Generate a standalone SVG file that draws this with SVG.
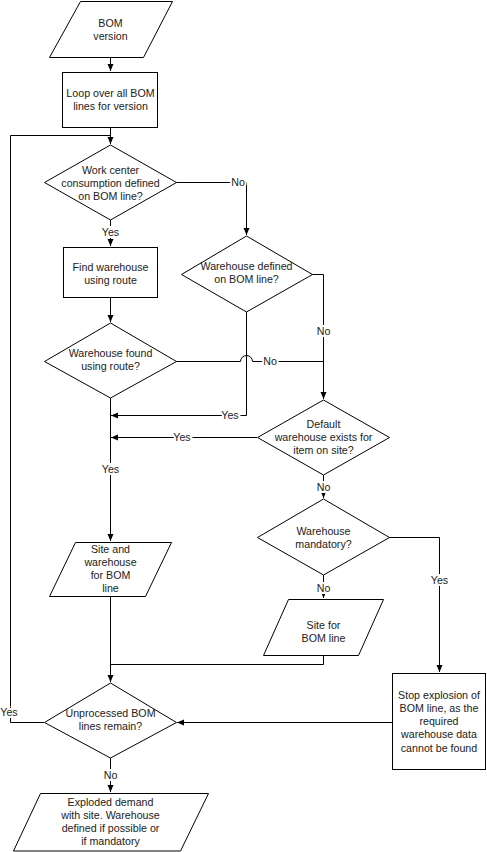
<svg xmlns="http://www.w3.org/2000/svg" width="487" height="852" viewBox="0 0 487 852">
<style>
.s{fill:#fff;stroke:#000;stroke-width:1}
.c{fill:none;stroke:#000;stroke-width:1}
text{font-family:"Liberation Sans",Arial,sans-serif;font-size:10.67px;fill:#222;text-anchor:middle}
.l{stroke:#fff;stroke-width:4;paint-order:stroke}
</style>
<defs>
<marker id="a" markerUnits="userSpaceOnUse" markerWidth="8" markerHeight="8" refX="7" refY="3" orient="auto">
<path d="M0,0 L7,3 L0,6 Z" fill="#000"/>
</marker>
</defs>
<rect width="487" height="852" fill="#fff"/>
<g id="connectors">
<path class="c" d="M110.5,57 V71" marker-end="url(#a)"/>
<path class="c" d="M110.5,127 V144" marker-end="url(#a)"/>
<path class="c" d="M44,722.5 H10.5 V135.5 H110.5"/>
<path class="c" d="M110.5,220 V246" marker-end="url(#a)"/>
<path class="c" d="M176,182.5 H246.5 V235" marker-end="url(#a)"/>
<path class="c" d="M110.5,297 V322" marker-end="url(#a)"/>
<path class="c" d="M312,274.5 H323.5 V399" marker-end="url(#a)"/>
<path class="c" d="M176,361.5 H240.5 A6,6 0 0 1 252.5,361.5 H323.5"/>
<path class="c" d="M246.5,312 V415.5 H111" marker-end="url(#a)"/>
<path class="c" d="M257,437.5 H111" marker-end="url(#a)"/>
<path class="c" d="M110.5,398 V541" marker-end="url(#a)"/>
<path class="c" d="M323.5,475 V498" marker-end="url(#a)"/>
<path class="c" d="M389,537.5 H439.5 V672" marker-end="url(#a)"/>
<path class="c" d="M323.5,575 V598" marker-end="url(#a)"/>
<path class="c" d="M110.5,596 V682" marker-end="url(#a)"/>
<path class="c" d="M323.5,655 V664.5 H110.5"/>
<path class="c" d="M392,722.5 H177" marker-end="url(#a)"/>
<path class="c" d="M110.5,758 V792" marker-end="url(#a)"/>
<text class="l" x="9" y="716">Yes</text>
<text class="l" x="110.5" y="236">Yes</text>
<text class="l" x="238" y="186">No</text>
<text class="l" x="323.5" y="335">No</text>
<text class="l" x="270" y="365">No</text>
<text class="l" x="230" y="419">Yes</text>
<text class="l" x="182" y="441">Yes</text>
<text class="l" x="110.5" y="473">Yes</text>
<text class="l" x="323.5" y="491">No</text>
<text class="l" x="439.5" y="584">Yes</text>
<text class="l" x="323.5" y="592">No</text>
<text class="l" x="110.5" y="779">No</text>
</g>
<g id="bom-version">
<path class="s" d="M80.5,1.5 H172.5 L143.5,57.5 H49.5 Z"/>
<text x="110.5" y="27">BOM</text>
<text x="110.5" y="40">version</text>
</g>
<g id="loop">
<rect class="s" x="62.5" y="72.5" width="95" height="55"/>
<text x="110.5" y="97">Loop over all BOM</text>
<text x="110.5" y="110">lines for version</text>
</g>
<g id="work-center">
<path class="s" d="M110.5,145 L176.5,182.5 L110.5,220 L44.5,182.5 Z"/>
<text x="110.5" y="174">Work center</text>
<text x="110.5" y="187">consumption defined</text>
<text x="110.5" y="200">on BOM line?</text>
</g>
<g id="find-warehouse">
<rect class="s" x="63.5" y="247.5" width="94" height="50"/>
<text x="110.5" y="271">Find warehouse</text>
<text x="110.5" y="284">using route</text>
</g>
<g id="warehouse-defined">
<path class="s" d="M246.5,236 L312.5,274.5 L246.5,312 L181.5,274.5 Z"/>
<text x="246.5" y="270">Warehouse defined</text>
<text x="246.5" y="283">on BOM line?</text>
</g>
<g id="warehouse-found">
<path class="s" d="M110.5,323 L176.5,361.5 L110.5,398 L44.5,361.5 Z"/>
<text x="110.5" y="357">Warehouse found</text>
<text x="110.5" y="370">using route?</text>
</g>
<g id="default-warehouse">
<path class="s" d="M323.5,400 L389.5,437.5 L323.5,475 L257.5,437.5 Z"/>
<text x="323.5" y="428">Default</text>
<text x="323.5" y="441">warehouse exists for</text>
<text x="323.5" y="454">item on site?</text>
</g>
<g id="site-warehouse">
<path class="s" d="M75.5,542.5 H171.5 L145.5,596.5 H49.5 Z"/>
<text x="110.5" y="553">Site and</text>
<text x="110.5" y="566">warehouse</text>
<text x="110.5" y="579">for BOM</text>
<text x="110.5" y="592">line</text>
</g>
<g id="warehouse-mandatory">
<path class="s" d="M323.5,499 L389.5,537.5 L323.5,575 L257.5,537.5 Z"/>
<text x="323.5" y="535">Warehouse</text>
<text x="323.5" y="548">mandatory?</text>
</g>
<g id="site-for-bom">
<path class="s" d="M288.5,599.5 H383.5 L358.5,655.5 H263.5 Z"/>
<text x="323.5" y="629">Site for</text>
<text x="323.5" y="642">BOM line</text>
</g>
<g id="stop-explosion">
<rect class="s" x="392.5" y="673.5" width="93" height="96"/>
<text x="439" y="699">Stop explosion of</text>
<text x="439" y="712">BOM line, as the</text>
<text x="439" y="725">required</text>
<text x="439" y="738">warehouse data</text>
<text x="439" y="752">cannot be found</text>
</g>
<g id="unprocessed">
<path class="s" d="M110.5,683 L176.5,722.5 L110.5,758 L44.5,722.5 Z"/>
<text x="110.5" y="717">Unprocessed BOM</text>
<text x="110.5" y="730">lines remain?</text>
</g>
<g id="exploded-demand">
<path class="s" d="M40.5,793.5 H208.5 L180.5,851 H13.5 Z"/>
<text x="110.5" y="806">Exploded demand</text>
<text x="110.5" y="819">with site. Warehouse</text>
<text x="110.5" y="832">defined if possible or</text>
<text x="110.5" y="845">if mandatory</text>
</g>
</svg>
